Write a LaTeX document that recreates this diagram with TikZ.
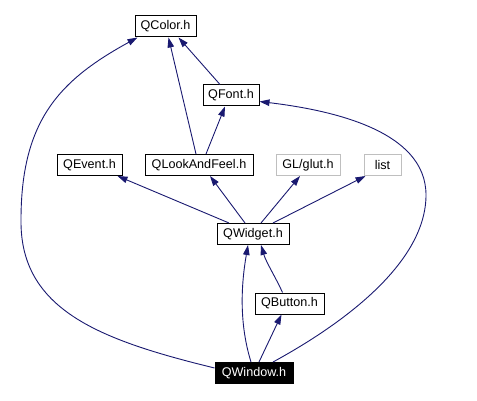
\documentclass[tikz,border=0pt]{standalone}
\usepackage{fontspec}
\setmainfont{Liberation Sans}
\usetikzlibrary{arrows.meta}
\definecolor{edgeblue}{HTML}{191970}
\definecolor{boxgray}{HTML}{BFBFBF}
\begin{document}
\begin{tikzpicture}[x=1pt,y=-1pt,
  file/.style={draw=black, line width=1pt, minimum height=21pt, inner sep=0pt, font=\fontsize{12.6}{14}\selectfont},
  ext/.style={file, draw=boxgray},
  self/.style={file, fill=black, text=white},
  inc/.style={color=edgeblue, line width=0.9pt, -{Triangle[length=10pt,width=6.5pt]}}
]
\useasboundingbox (0,0) rectangle (477,401);
\node[file, minimum width=61pt] (qcolor) at (165.5,26.5) {QColor.h};
\node[file, minimum width=56pt] (qfont) at (231,95.5) {QFont.h};
\node[file, minimum width=65pt] (qevent) at (89.5,165) {QEvent.h};
\node[file, minimum width=108pt] (qlaf) at (199,165) {QLookAndFeel.h};
\node[ext, minimum width=64pt] (glut) at (308,165) {GL/glut.h};
\node[ext, minimum width=37pt] (list) at (382.5,165) {list};
\node[file, minimum width=72pt] (qwidget) at (253,234) {QWidget.h};
\node[file, minimum width=69pt] (qbutton) at (289.5,303.5) {QButton.h};
\node[self, minimum width=78pt] (qwindow) at (254,373) {QWindow.h};

\draw[inc] ([xshift=-11pt]qfont.north) -- ([xshift=13pt]qcolor.south);
\draw[inc] ([xshift=-3pt]qlaf.north) -- ([xshift=3pt]qcolor.south);
\draw[inc] ([xshift=7pt]qlaf.north) -- ([xshift=-6pt]qfont.south);
\draw[inc] ([xshift=-24pt]qwidget.north) -- ([xshift=28pt]qevent.south);
\draw[inc] ([xshift=-8pt]qwidget.north) -- ([xshift=11pt]qlaf.south);
\draw[inc] ([xshift=8pt]qwidget.north) -- ([xshift=-8pt]glut.south);
\draw[inc] ([xshift=20pt]qwidget.north) -- ([xshift=-17pt]list.south);
\draw[inc] ([xshift=-7pt]qbutton.north) .. controls (276,278) and (266,262) .. ([xshift=8pt]qwidget.south);
\draw[inc] ([xshift=5pt]qwindow.north) -- ([xshift=-8pt]qbutton.south);
\draw[inc] ([xshift=-3pt]qwindow.north) .. controls (238,320) and (242,280) .. ([xshift=-5pt]qwidget.south);
\draw[inc] ([yshift=5pt]qwindow.west) .. controls (100,340) and (20,310) .. (21,220)
  .. controls (21,120) and (60,80) .. ([xshift=3pt]qcolor.south west);
\draw[inc] ([xshift=19pt]qwindow.north) .. controls (350,320) and (426,260) .. (426,195)
  .. controls (426,130) and (330,110) .. ([yshift=-6pt]qfont.east);
\end{tikzpicture}
\end{document}
